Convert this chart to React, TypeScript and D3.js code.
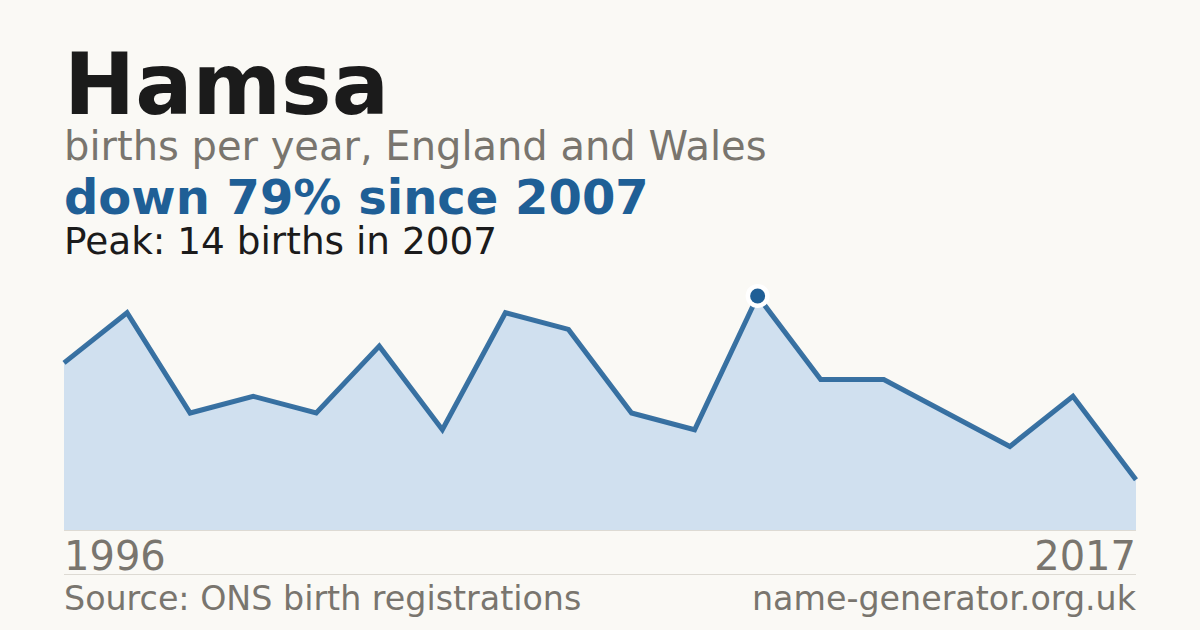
import React from "react";
import * as d3 from "d3";

const years = [1996, 1997, 1998, 1999, 2000, 2001, 2002, 2003, 2004, 2005, 2006, 2007, 2008, 2009, 2011, 2013, 2016, 2017];
const births = [10, 13, 7, 8, 7, 11, 6, 13, 12, 7, 6, 14, 9, 9, 7, 5, 8, 3];
const title = "Hamsa";
const subtitle = "births per year, England and Wales";
const headline = "down 79% since 2007";
const peakText = "Peak: 14 births in 2007";
const source = "Source: ONS birth registrations";
const site = "name-generator.org.uk";

const W = 1200;
const H = 630;
const FONT = "'DejaVu Sans', sans-serif";

export default function App() {
  const idx = births.map((_, i) => i);
  const x = d3.scalePoint<number>().domain(idx).range([64, 1136]);
  const y = d3.scaleLinear().domain([0, 14]).range([530, 296]);
  const area = d3
    .area<number>()
    .x((_, i) => x(i) as number)
    .y0(530)
    .y1((d) => y(d));
  const line = d3
    .line<number>()
    .x((_, i) => x(i) as number)
    .y((d) => y(d));
  const maxV = d3.max(births) as number;
  const peakI = births.indexOf(maxV);

  return (
    <svg
      width={W}
      height={H}
      style={{ position: "absolute", left: 0, top: 0, display: "block" }}
    >
      <rect x={0} y={0} width={W} height={H} fill="#faf9f5" />
      <text x={64} y={114} fontFamily={FONT} fontWeight="bold" fontSize={85} fill="#1b1b1b">
        {title}
      </text>
      <text x={64} y={160} fontFamily={FONT} fontSize={40} fill="#79756e">
        {subtitle}
      </text>
      <text x={64} y={214} fontFamily={FONT} fontWeight="bold" fontSize={48} fill="#1f5f96">
        {headline}
      </text>
      <text x={64} y={254} fontFamily={FONT} fontSize={37.4} fill="#1b1b1b">
        {peakText}
      </text>

      <path d={area(births) as string} fill="#d0e0ef" />
      <line x1={64} x2={1136} y1={530.5} y2={530.5} stroke="#dddad3" strokeWidth={1} />
      <path
        d={line(births) as string}
        fill="none"
        stroke="#1f5f96"
        strokeOpacity={0.88}
        strokeWidth={5}
        strokeLinejoin="miter"
      />
      <circle cx={x(peakI) as number} cy={y(maxV)} r={12} fill="#ffffff" />
      <circle cx={x(peakI) as number} cy={y(maxV)} r={7.5} fill="#1f5f96" />

      <text x={64} y={570} fontFamily={FONT} fontSize={40} fill="#79756e">
        {years[0]}
      </text>
      <text x={1136} y={570} textAnchor="end" fontFamily={FONT} fontSize={40} fill="#79756e">
        {years[years.length - 1]}
      </text>
      <line x1={64} x2={1136} y1={574.5} y2={574.5} stroke="#dddad3" strokeWidth={1} />
      <text x={64} y={610} fontFamily={FONT} fontSize={33.3} fill="#79756e">
        {source}
      </text>
      <text x={1136} y={610} textAnchor="end" fontFamily={FONT} fontSize={33.3} fill="#79756e">
        {site}
      </text>
    </svg>
  );
}
